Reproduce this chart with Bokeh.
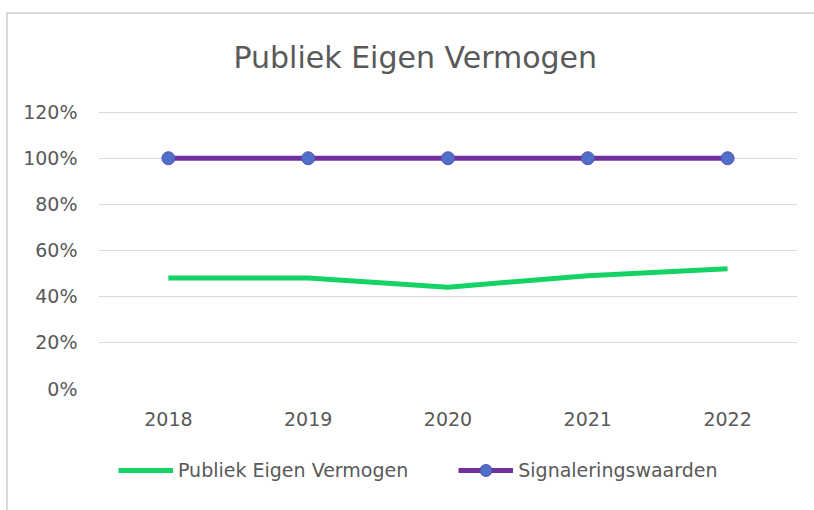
from bokeh.plotting import figure
from bokeh.layouts import column
from bokeh.models import FactorRange, Range1d, FixedTicker, Legend, LegendItem, ColumnDataSource
from bokeh.embed import file_html
from bokeh.resources import INLINE

years = ["2018", "2019", "2020", "2021", "2022"]
pev = [0.48, 0.48, 0.44, 0.49, 0.52]
signal = [1.0, 1.0, 1.0, 1.0, 1.0]
y_ticks = [0, 0.2, 0.4, 0.6, 0.8, 1.0, 1.2]
y_labels = ["0%", "20%", "40%", "60%", "80%", "100%", "120%"]
series_names = ["Publiek Eigen Vermogen", "Signaleringswaarden"]

FONT = "DejaVu Sans"
GRAY = "#595959"
GREEN = "#14d364"
PURPLE = "#7030a0"
MARK_FILL = "#4f6fc8"
MARK_LINE = "#5a4fb0"

p = figure(width=814, height=440, x_range=FactorRange(*years, range_padding=0),
           y_range=Range1d(0, 1.203), output_backend="svg", toolbar_location=None,
           min_border_left=98, min_border_right=17, min_border_top=110,
           min_border_bottom=52)
p.outline_line_color = None
p.background_fill_color = "white"
p.border_fill_alpha = 0

p.title.text = "Publiek Eigen Vermogen"
p.title.align = "left"
p.title.offset = 135
p.title.text_font = FONT
p.title.text_font_style = "normal"
p.title.text_font_size = "30px"
p.title.text_color = GRAY
p.title.standoff = 74

p.xgrid.grid_line_color = None
p.ygrid.grid_line_color = "#d9d9d9"
p.ygrid.grid_line_width = 1

p.yaxis.ticker = FixedTicker(ticks=y_ticks)
p.yaxis.major_label_overrides = {t: l for t, l in zip(y_ticks, y_labels)}
for ax in (p.xaxis[0], p.yaxis[0]):
    ax.axis_line_color = None
    ax.major_tick_line_color = None
    ax.minor_tick_line_color = None
    ax.major_label_text_font = FONT
    ax.major_label_text_font_size = "19px"
    ax.major_label_text_color = GRAY
p.yaxis.major_label_standoff = 15
p.xaxis.major_label_standoff = 17

src = ColumnDataSource(dict(x=years, pev=pev, sig=signal))
r1 = p.line("x", "pev", source=src, line_color=GREEN, line_width=5)
r2 = p.line("x", "sig", source=src, line_color=PURPLE, line_width=5)
r3 = p.scatter("x", "sig", source=src, size=13, fill_color=MARK_FILL,
               line_color=MARK_LINE, line_width=1)

# legend strip below the chart (series drawn out of view, only legend swatches show)
q = figure(width=814, height=70, x_range=FactorRange(*years, range_padding=0),
           y_range=Range1d(5, 6), output_backend="svg", toolbar_location=None,
           x_axis_location=None, y_axis_location=None, min_border=0)
q.outline_line_color = None
q.background_fill_alpha = 0
q.border_fill_alpha = 0
q.grid.visible = False
l1 = q.line("x", "pev", source=src, line_color=GREEN, line_width=5)
l2 = q.line("x", "sig", source=src, line_color=PURPLE, line_width=5)
l3 = q.scatter("x", "sig", source=src, size=13, fill_color=MARK_FILL,
               line_color=MARK_LINE, line_width=1)
legend = Legend(items=[LegendItem(label=series_names[0], renderers=[l1]),
                       LegendItem(label=series_names[1], renderers=[l2, l3])],
                orientation="horizontal", location=(20, 25),
                label_text_font=FONT, label_text_font_size="19px",
                label_text_color=GRAY, glyph_width=55, glyph_height=30,
                label_standoff=5, spacing=50, margin=0, padding=0,
                background_fill_alpha=0, border_line_color=None)
q.add_layout(legend, "center")

layout = column(p, q, spacing=0)
layout.styles = {
    "background": "linear-gradient(#d9d9d9,#d9d9d9) 6px 12px / 2px 100% no-repeat, "
                  "linear-gradient(#d9d9d9,#d9d9d9) 6px 12px / 100% 2px no-repeat, white"
}
open("out.html", "w").write(file_html(layout, INLINE))
